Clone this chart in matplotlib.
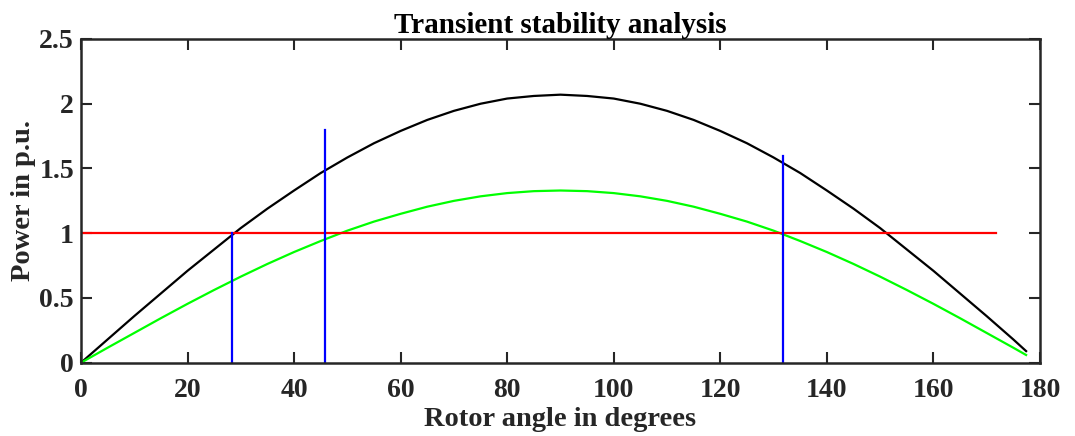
import matplotlib
matplotlib.use("Agg")
import matplotlib.pyplot as plt

# Data
delta = [0, 5, 10, 15, 20, 25, 30, 35, 40, 45, 50, 55, 60, 65, 70, 75, 80, 85, 90,
         95, 100, 105, 110, 115, 120, 125, 130, 135, 140, 145, 150, 155, 160, 165, 170, 175, 177.4]
p_pre = [0, 0.18, 0.36, 0.535, 0.71, 0.875, 1.04, 1.19, 1.33, 1.465, 1.585, 1.695, 1.79, 1.875, 1.945, 2.0, 2.04, 2.06, 2.07,
         2.06, 2.04, 2.0, 1.945, 1.875, 1.79, 1.695, 1.585, 1.465, 1.33, 1.19, 1.04, 0.875, 0.71, 0.535, 0.36, 0.18, 0.09]
p_post = [0, 0.116, 0.23, 0.344, 0.455, 0.562, 0.665, 0.763, 0.855, 0.94, 1.02, 1.09, 1.15, 1.205, 1.25, 1.285, 1.31, 1.325, 1.33,
          1.325, 1.31, 1.285, 1.25, 1.205, 1.15, 1.09, 1.02, 0.94, 0.855, 0.763, 0.665, 0.562, 0.455, 0.344, 0.23, 0.116, 0.06]
pm_x = [0, 171.8]
pm_y = [1, 1]
blue_x = [28.4, 45.8, 131.8]
blue_top = [1.0, 1.8, 1.6]

xticks = list(range(0, 181, 20))
yticks = [0, 0.5, 1, 1.5, 2, 2.5]
ytick_labels = ["0", "0.5", "1", "1.5", "2", "2.5"]

plt.rcParams['font.family'] = ['Liberation Serif', 'DejaVu Serif']
plt.rcParams['font.weight'] = 'bold'

fig = plt.figure(figsize=(10.75, 4.36), dpi=100)
ax = fig.add_axes([0.0753, 0.168, 0.8921, 0.7426])

ax.plot(delta, p_pre, color='black', lw=1.6)
ax.plot(delta, p_post, color='#00ff00', lw=1.6)
ax.plot(pm_x, pm_y, color='red', lw=1.6)
for bx, bt in zip(blue_x, blue_top):
    ax.plot([bx, bx], [0, bt], color='blue', lw=1.6)

ax.set_xlim(0, 180)
ax.set_ylim(0, 2.5)
ax.set_xticks(xticks)
ax.set_yticks(yticks)
ax.set_yticklabels(ytick_labels)
ax.tick_params(direction='in', length=8, width=1.5, top=True, right=True,
               labelsize=20, colors='#262626')
ax.tick_params(axis='x', pad=11)
ax.tick_params(axis='y', pad=5)
for lab in ax.get_xticklabels() + ax.get_yticklabels():
    lab.set_fontweight('bold')
for sp in ax.spines.values():
    sp.set_linewidth(1.8)
    sp.set_color('#262626')

ax.set_title('Transient stability analysis', fontsize=21, fontweight='bold', pad=4)
ax.set_xlabel('Rotor angle in degrees', fontsize=20.5, fontweight='bold', color='#262626', labelpad=3)
ax.set_ylabel('Power in p.u.', fontsize=20.5, fontweight='bold', color='#262626', labelpad=2)

fig.savefig('out.png', dpi=100)
